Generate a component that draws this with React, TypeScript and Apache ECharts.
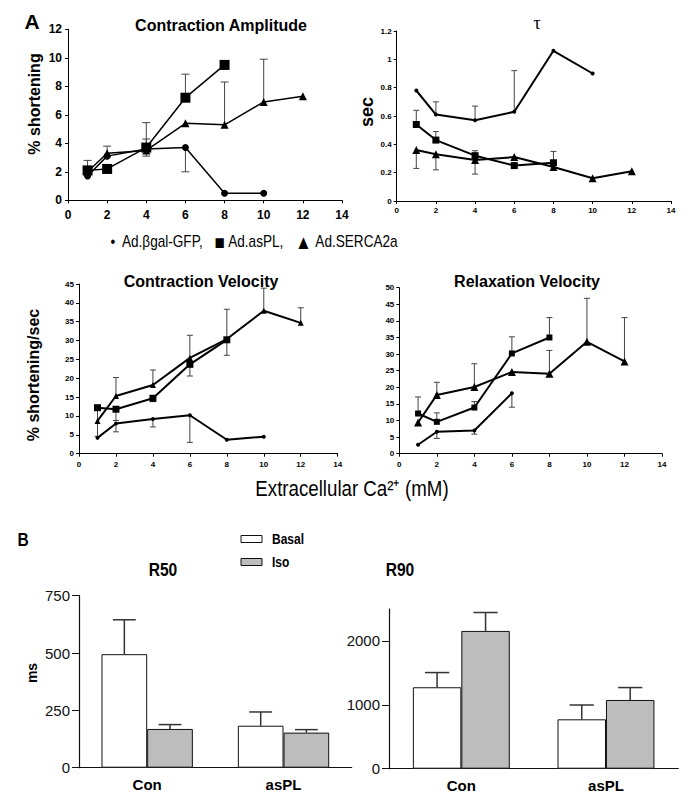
import { useEffect, useRef } from 'react';
import * as echarts from 'echarts';

const FONT = "'Liberation Sans', Arial, sans-serif";

// Extracellular Ca2+ (mM)
const caX = [1, 2, 4, 6, 8, 10, 12];
const seriesNames = ['Ad.βgal-GFP', 'Ad.asPL', 'Ad.SERCA2a'];

// Contraction amplitude (% shortening)
const ampGal = [1.7, 3.1, 3.6, 3.7, 0.5, 0.5];
const ampAsPL = [2.1, 2.2, 3.7, 7.2, 9.5];
const ampSerca = [2.0, 3.3, 3.5, 5.4, 5.3, 6.9, 7.3];
// error bars: [x, mean, end]
const ampErr = [
  [1, 2.0, 2.8], [2, 3.3, 3.8], [4, 3.5, 5.45], [4, 3.7, 4.3], [4, 3.6, 3.1],
  [6, 7.2, 8.85], [6, 3.7, 2.0], [8, 5.3, 8.3], [10, 6.9, 9.9],
];

// tau (sec)
const tauGal = [0.78, 0.61, 0.57, 0.63, 1.06, 0.9];
const tauAsPL = [0.54, 0.43, 0.32, 0.25, 0.27];
const tauSerca = [0.36, 0.33, 0.29, 0.31, 0.24, 0.16, 0.21];
const tauErr = [
  [2, 0.61, 0.7], [4, 0.57, 0.67], [6, 0.63, 0.92], [1, 0.54, 0.64], [2, 0.43, 0.49],
  [4, 0.32, 0.355], [8, 0.27, 0.35], [1, 0.36, 0.23], [2, 0.33, 0.22], [4, 0.29, 0.19],
];

// Contraction velocity (% shortening/sec)
const cvGal = [4.2, 8.0, 9.2, 10.2, 3.7, 4.5];
const cvAsPL = [12.2, 11.8, 14.7, 23.7, 30.2];
const cvSerca = [8.7, 15.3, 18.2, 25.4, 30.4, 37.9, 34.7];
const cvErr = [
  [1, 12.2, 4.6], [2, 15.3, 20.2], [2, 11.8, 8.8], [2, 8.0, 5.8], [4, 18.2, 22.2],
  [4, 14.7, 13.8], [4, 9.2, 7.1], [6, 25.4, 31.4], [6, 23.7, 20.6], [6, 10.2, 3.0],
  [8, 30.4, 38.3], [8, 30.2, 26.1], [10, 37.9, 43.9], [12, 34.7, 38.7],
];

// Relaxation velocity
const rvGal = [2.7, 6.6, 7.0, 18.2];
const rvAsPL = [12.1, 9.6, 13.9, 30.2, 35.0];
const rvSerca = [9.4, 17.7, 20.1, 24.6, 24.1, 33.7, 27.8];
const rvErr = [
  [1, 12.1, 17.1], [2, 9.6, 12.3], [2, 6.6, 4.6], [2, 17.7, 21.5], [4, 20.1, 27.1],
  [4, 13.9, 15.7], [4, 7.0, 5.9], [6, 30.2, 35.2], [6, 18.2, 14.0], [8, 35.0, 41.0],
  [8, 24.1, 31.1], [10, 33.7, 46.8], [12, 27.8, 41.0],
];

// Panel B
const groups = ['Con', 'asPL'];
const r50Basal = [495, 183];
const r50Iso = [169, 153];
const r50BasalErr = [645, 243];
const r50IsoErr = [188, 166];
const r90Basal = [1275, 773];
const r90Iso = [2157, 1076];
const r90BasalErr = [1505, 997];
const r90IsoErr = [2445, 1270];
const r90Ticks = [0, 1000, 2000];

const grids = [
  { left: 68, top: 29.3, width: 274, height: 171 },
  { left: 396.7, top: 31, width: 274.3, height: 170 },
  { left: 79, top: 284, width: 258.7, height: 169.7 },
  { left: 399.3, top: 287.7, width: 262.7, height: 166 },
  { left: 79, top: 595.7, width: 272.7, height: 172 },
  { left: 389, top: 609, width: 289.3, height: 159.7 },
];

function xVal(gi: number, fontSize: number, margin: number) {
  return {
    type: 'value', gridIndex: gi, min: 0, max: 14, interval: 2,
    axisLine: { show: true, lineStyle: { color: '#000', width: 1 } },
    axisTick: { show: true, length: 3, lineStyle: { color: '#000' } },
    axisLabel: { fontSize, fontWeight: 'bold', color: '#000', margin, fontFamily: FONT },
    splitLine: { show: false },
  };
}
function yVal(gi: number, max: number, interval: number, fontSize: number, margin: number) {
  return {
    type: 'value', gridIndex: gi, min: 0, max, interval,
    axisLine: { show: true, lineStyle: { color: '#000', width: 1 } },
    axisTick: { show: true, length: 3, lineStyle: { color: '#000' } },
    axisLabel: { fontSize, fontWeight: 'bold', color: '#000', margin, fontFamily: FONT },
    splitLine: { show: false },
  };
}

function line(name: string, ys: number[], gi: number, symbol: string, size: number, lw: number) {
  return {
    type: 'line', name, xAxisIndex: gi, yAxisIndex: gi,
    data: ys.map((v, i) => [caX[i], v]),
    symbol, symbolSize: size, showSymbol: true,
    lineStyle: { color: '#000', width: lw },
    itemStyle: { color: '#000', borderWidth: 0 },
    z: 3, silent: true,
  };
}

function err(data: number[][], gi: number, cap: number) {
  return {
    type: 'custom', xAxisIndex: gi, yAxisIndex: gi, data, z: 2, silent: true,
    encode: { x: 0, y: [1, 2] },
    renderItem: (_p: any, api: any) => {
      const a = api.coord([api.value(0), api.value(1)]);
      const b = api.coord([api.value(0), api.value(2)]);
      const st = { stroke: '#444', lineWidth: 1 };
      return {
        type: 'group', children: [
          { type: 'line', shape: { x1: a[0], y1: a[1], x2: b[0], y2: b[1] }, style: st },
          { type: 'line', shape: { x1: b[0] - cap, y1: b[1], x2: b[0] + cap, y2: b[1] }, style: st },
        ],
      };
    },
  };
}

function barErr(vals: number[], ends: number[], side: number, gi: number) {
  return {
    type: 'custom', xAxisIndex: gi, yAxisIndex: gi, z: 1, silent: true,
    data: vals.map((v, i) => [i, v, ends[i], side]),
    encode: { x: 0, y: [1, 2] },
    renderItem: (_p: any, api: any) => {
      const band = api.size([1, 0])[0];
      const bw = (band * 0.67) / 2;
      const off = api.value(3) * bw / 2;
      const a = api.coord([api.value(0), api.value(1)]);
      const b = api.coord([api.value(0), api.value(2)]);
      const x = a[0] + off;
      const cap = bw / 4;
      const st = { stroke: '#333', lineWidth: 1.5 };
      return {
        type: 'group', children: [
          { type: 'line', shape: { x1: x, y1: a[1], x2: x, y2: b[1] }, style: st },
          { type: 'line', shape: { x1: x - cap, y1: b[1], x2: x + cap, y2: b[1] }, style: st },
        ],
      };
    },
  };
}

function bar(name: string, vals: number[], gi: number, color: string) {
  return {
    type: 'bar', name, xAxisIndex: gi, yAxisIndex: gi, data: vals,
    barGap: '0%', barCategoryGap: '33%',
    itemStyle: { color, borderColor: '#111', borderWidth: 1 }, z: 2, silent: true,
  };
}

function catX(gi: number) {
  return {
    type: 'category', gridIndex: gi, data: groups,
    axisLine: { show: true, lineStyle: { color: '#111', width: 1.2 } },
    axisTick: { show: false },
    axisLabel: { fontSize: 15, fontWeight: 'bold', color: '#000', margin: 9, fontFamily: FONT },
  };
}

function txt(text: string, x: number, y: number, fontSize: number, opts: any = {}) {
  return {
    type: 'text', x, y, rotation: opts.rotation || 0, scaleX: opts.scaleX || 1, silent: true,
    style: {
      text, fontSize, fontWeight: opts.weight || 'bold', fontFamily: opts.family || FONT,
      fill: '#000', align: opts.align || 'center', verticalAlign: 'middle',
      rich: opts.rich,
    },
  };
}

const titleStyle = (size: number) => ({ fontSize: size, fontWeight: 'bold', color: '#000', fontFamily: FONT });

const option = {
  animation: false,
  backgroundColor: '#fff',
  title: [
    { text: 'Contraction Amplitude', left: 216, top: 12, textAlign: 'center', textStyle: titleStyle(16) },
    { text: 'τ', left: 532, top: 9, textAlign: 'center', textStyle: { fontSize: 18, fontWeight: 'normal', color: '#000', fontFamily: "'Liberation Serif', serif" } },
    { text: 'Contraction Velocity', left: 196, top: 268, textAlign: 'center', textStyle: titleStyle(16) },
    { text: 'Relaxation Velocity', left: 522, top: 268, textAlign: 'center', textStyle: titleStyle(16) },
  ],
  grid: grids.map((g) => ({ ...g, containLabel: false })),
  xAxis: [
    xVal(0, 12, 9), xVal(1, 8, 5), xVal(2, 8, 7), xVal(3, 8, 7), catX(4), catX(5),
  ],
  yAxis: [
    yVal(0, 12, 2, 12, 6), yVal(1, 1.2, 0.2, 8, 5), yVal(2, 45, 5, 8, 5), yVal(3, 50, 5, 8, 5),
    {
      type: 'value', gridIndex: 4, min: 0, max: 750, interval: 250,
      axisLine: { show: true, lineStyle: { color: '#111', width: 1.2 } },
      axisTick: { show: true, length: 7, lineStyle: { color: '#111' } },
      axisLabel: { fontSize: 15, color: '#111', margin: 9, fontFamily: FONT },
      splitLine: { show: false },
    },
    {
      type: 'value', gridIndex: 5, min: 0, max: 2500,
      axisLine: { show: true, lineStyle: { color: '#111', width: 1.2 } },
      axisTick: { show: true, length: 7, lineStyle: { color: '#111' }, customValues: r90Ticks },
      axisLabel: {
        fontSize: 15, color: '#111', margin: 9, fontFamily: FONT, customValues: r90Ticks,
        formatter: (v: number) => String(v),
      },
      splitLine: { show: false },
    },
  ],
  series: [
    line(seriesNames[0], ampGal, 0, 'circle', 7, 1.5),
    line(seriesNames[1], ampAsPL, 0, 'rect', 10, 1.5),
    line(seriesNames[2], ampSerca, 0, 'triangle', 8, 1.5),
    err(ampErr, 0, 4),
    line(seriesNames[0], tauGal, 1, 'circle', 4, 2),
    line(seriesNames[1], tauAsPL, 1, 'rect', 7, 2),
    line(seriesNames[2], tauSerca, 1, 'triangle', 8, 2),
    err(tauErr, 1, 3),
    line(seriesNames[0], cvGal, 2, 'circle', 4, 2),
    line(seriesNames[1], cvAsPL, 2, 'rect', 7, 2),
    line(seriesNames[2], cvSerca, 2, 'triangle', 6, 2),
    err(cvErr, 2, 3),
    line(seriesNames[0], rvGal, 3, 'circle', 4, 2),
    line(seriesNames[1], rvAsPL, 3, 'rect', 6, 2),
    line(seriesNames[2], rvSerca, 3, 'triangle', 8, 2),
    err(rvErr, 3, 3),
    bar('Basal', r50Basal, 4, '#ffffff'),
    bar('Iso', r50Iso, 4, '#bdbdbd'),
    barErr(r50Basal, r50BasalErr, -1, 4),
    barErr(r50Iso, r50IsoErr, 1, 4),
    bar('Basal', r90Basal, 5, '#ffffff'),
    bar('Iso', r90Iso, 5, '#bdbdbd'),
    barErr(r90Basal, r90BasalErr, -1, 5),
    barErr(r90Iso, r90IsoErr, 1, 5),
  ],
  graphic: [
    txt('A', 32, 21, 21),
    txt('B', 23, 539, 19, { scaleX: 0.82 }),
    txt('R50', 163, 569, 19, { scaleX: 0.82 }),
    txt('R90', 400, 569, 19, { scaleX: 0.82 }),
    { type: 'rect', shape: { x: 241, y: 535.5, width: 21, height: 7 }, style: { fill: '#fff', stroke: '#111', lineWidth: 1 }, silent: true },
    { type: 'rect', shape: { x: 241, y: 558.5, width: 21, height: 7 }, style: { fill: '#bdbdbd', stroke: '#111', lineWidth: 1 }, silent: true },
    txt('Basal', 272, 539, 15, { scaleX: 0.8, align: 'left' }),
    txt('Iso', 272, 562, 15, { scaleX: 0.8, align: 'left' }),
    txt('% shortening', 34, 104, 16, { rotation: Math.PI / 2 }),
    txt('sec', 367, 112, 18, { rotation: Math.PI / 2 }),
    txt('% shortening/sec', 33, 375, 16, { rotation: Math.PI / 2 }),
    txt('ms', 32, 673, 14, { rotation: Math.PI / 2 }),
    txt('•  Ad.βgal-GFP,   {s|■} Ad.asPL,   {s|▲} Ad.SERCA2a', 254, 242, 16, {
      weight: 'normal', scaleX: 0.85,
      rich: { s: { fontSize: 20, fontFamily: FONT, fill: '#000' } },
    }),
    txt('Extracellular Ca²⁺ (mM)', 352, 488, 22, { weight: 'normal', scaleX: 0.85 }),
  ],
};

export default function App() {
  const ref = useRef<HTMLDivElement>(null);
  useEffect(() => {
    document.body.style.margin = '0';
    const chart = echarts.init(ref.current!, null, { renderer: 'svg' });
    chart.setOption(option as any);
    return () => chart.dispose();
  }, []);
  return <div ref={ref} style={{ width: 695, height: 802 }} />;
}
